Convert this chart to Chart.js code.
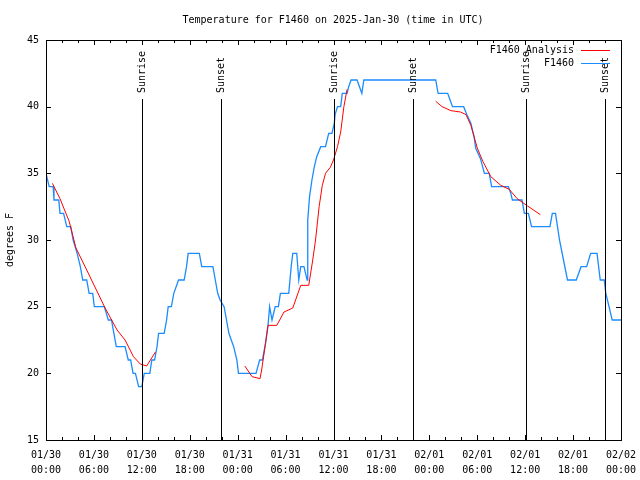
<!DOCTYPE html>
<html>
<head>
<meta charset="utf-8">
<script src="https://cdn.jsdelivr.net/npm/chart.js@4"></script>
<style>
  html, body { margin: 0; padding: 0; background: #fff; }
  #wrap { width: 640px; height: 480px; }
</style>
</head>
<body>
<div id="wrap"><canvas id="chart" width="640" height="480"></canvas></div>
<script>
// hours since 2025-01-30 00:00 UTC
const obsHours = [0,0.4,0.9,1.0,1.6,1.75,2.2,2.6,3.1,3.4,3.9,4.3,4.6,5.1,5.4,5.85,6.05,7.3,7.8,8.2,8.5,8.8,9.9,10.3,10.6,10.9,11.2,11.6,12.0,12.3,13.0,13.25,13.6,13.9,14.1,14.8,15.1,15.3,15.7,16.0,16.6,17.3,17.6,17.8,19.2,19.5,20.9,21.2,21.5,21.8,22.3,22.6,22.9,23.2,23.5,23.9,24.1,26.3,26.75,27.1,27.5,27.8,28.0,28.3,28.7,29.1,29.35,30.4,30.7,30.9,31.4,31.65,31.9,32.3,32.5,32.7,32.75,32.8,33.0,33.3,33.6,33.9,34.4,35.0,35.4,35.8,36.1,36.2,36.5,36.9,37.1,37.7,37.9,38.2,38.95,39.25,39.55,39.8,48.8,49.1,50.3,50.6,50.9,52.3,52.7,53.2,53.6,53.8,54.4,54.9,55.5,55.8,57.9,58.2,58.4,59.6,59.9,60.4,60.8,63.1,63.4,63.8,64.3,64.8,65.3,66.4,67.0,67.7,68.2,69.0,69.4,69.9,70.1,70.5,70.9,72];
const obsTemps = [35,34,34,33,33,32,32,31,31,30,29,28,27,27,26,26,25,25,24,24,23,22,22,21,21,20,20,19,19,20,20,21,21,22,23,23,24,25,25,26,27,27,28,29,29,28,28,27,26,25.5,25,24,23,22.5,22,21,20,20,21,21,22.3,23.6,25,24,25,25,26,26,28,29,29,27,28,28,27.5,27,29,31.5,33.25,34.5,35.5,36.25,37,37,38,38,38.75,39.4,40,40,41,41,41.5,42,42,41.5,41,42,42,41,41,40.5,40,40,39.4,38.75,37.75,36.9,36.1,35,35,34,34,33.5,33,33,32,32,31,31,32,32,30,28.5,27,27,28,28,29,29,27,27,26,25,24,24];

// analysis runs, null breaks the line between runs
const anaHours = [0.8,1.75,2.9,3.75,5.1,7.4,8.9,9.9,10.95,11.8,12.6,13.7, 13.8,
  24.9,25.8,26.8,27.0,27.5,27.8,28.9,29.8,30.9,31.9,32.9,33.4,33.75,34.2,34.6,35.0,35.6,36.0,36.5,36.9,37.3,37.7, 37.8,
  48.8,49.6,50.7,51.9,52.6,53.2,53.6,54.0,54.7,55.7,56.95,58.0,59.0,60.3,61.9];
const anaTemps = [34.25,33.1,31.4,29.4,27.75,24.9,23.25,22.5,21.25,20.7,20.55,21.6, null,
  20.55,19.75,19.6,20.25,22.3,23.6,23.6,24.6,24.9,26.6,26.6,28.5,30,32.5,34.1,35,35.45,36,37,38.1,40,41.3, null,
  40.4,40,39.7,39.6,39.4,38.6,37.75,36.9,35.9,34.75,34.1,33.8,33.1,32.55,31.9];

const eventHours = [12.05, 21.95, 36.1, 45.9, 60.1, 70.0];
const eventNames = ['Sunrise', 'Sunset', 'Sunrise', 'Sunset', 'Sunrise', 'Sunset'];

const dayLabels = ['01/30', '01/31', '02/01', '02/02'];
const timeLabels = ['00:00', '06:00', '12:00', '18:00'];

const FONT = '10px "DejaVu Sans Mono", monospace';

const gnuplotLook = {
  id: 'gnuplotLook',
  afterDatasetsDraw(chart) {
    const ctx = chart.ctx;
    const a = chart.chartArea;
    const xs = chart.scales.x, ys = chart.scales.y;
    ctx.save();
    ctx.strokeStyle = '#000';
    ctx.lineWidth = 1;

    // event lines
    ctx.fillStyle = '#000';
    ctx.font = FONT;
    eventHours.forEach((h, i) => {
      const px = Math.round(xs.getPixelForValue(h)) + 0.5;
      ctx.beginPath();
      ctx.moveTo(px, 99);
      ctx.lineTo(px, a.bottom);
      ctx.stroke();
      ctx.save();
      ctx.translate(px, 93);
      ctx.rotate(-Math.PI / 2);
      ctx.textAlign = 'left';
      ctx.textBaseline = 'middle';
      ctx.fillText(eventNames[i], 0, 0);
      ctx.restore();
    });

    // border
    ctx.strokeRect(Math.round(a.left) + 0.5, Math.round(a.top) + 0.5,
      Math.round(a.right - a.left), Math.round(a.bottom - a.top));

    // ticks on all sides, pointing inward
    ctx.beginPath();
    for (let h = 0; h <= 72; h += 2) {
      const px = Math.round(xs.getPixelForValue(h)) + 0.5;
      const len = h % 6 === 0 ? 5 : 3;
      ctx.moveTo(px, a.bottom); ctx.lineTo(px, a.bottom - len);
      ctx.moveTo(px, a.top); ctx.lineTo(px, a.top + len);
    }
    for (let t = 15; t <= 45; t += 5) {
      const py = Math.round(ys.getPixelForValue(t)) + 0.5;
      ctx.moveTo(a.left, py); ctx.lineTo(a.left + 5, py);
      ctx.moveTo(a.right, py); ctx.lineTo(a.right - 5, py);
    }
    ctx.stroke();

    // legend
    ctx.textAlign = 'right';
    ctx.textBaseline = 'middle';
    chart.data.datasets.forEach((ds, i) => {
      const ly = 50 + i * 13;
      ctx.fillStyle = '#000';
      ctx.fillText(ds.label, 574, ly);
      ctx.strokeStyle = ds.borderColor;
      ctx.beginPath();
      ctx.moveTo(581, ly + 0.5);
      ctx.lineTo(610, ly + 0.5);
      ctx.stroke();
    });

    // title and y title
    ctx.fillStyle = '#000';
    ctx.textAlign = 'center';
    ctx.fillText('Temperature for F1460 on 2025-Jan-30 (time in UTC)', 333, 20);
    ctx.save();
    ctx.translate(10, 240);
    ctx.rotate(-Math.PI / 2);
    ctx.fillText('degrees F', 0, 0);
    ctx.restore();
    ctx.restore();
  }
};

new Chart(document.getElementById('chart'), {
  type: 'line',
  data: {
    datasets: [{
      label: 'F1460 Analysis',
      data: anaHours.map((h, i) => ({ x: h, y: anaTemps[i] })),
      borderColor: '#ff0000',
      borderWidth: 1,
      pointRadius: 0,
      spanGaps: false,
      tension: 0
    }, {
      label: 'F1460',
      data: obsHours.map((h, i) => ({ x: h, y: obsTemps[i] })),
      borderColor: '#1a8cff',
      borderWidth: 1.3,
      pointRadius: 0,
      tension: 0
    }]
  },
  options: {
    responsive: false,
    animation: false,
    layout: { padding: { top: 40, right: 19, left: 0, bottom: 0 } },
    plugins: {
      legend: { display: false },
      title: { display: false },
      tooltip: { enabled: false }
    },
    scales: {
      x: {
        type: 'linear',
        min: 0,
        max: 72,
        afterFit: s => { s.height = 40; s.paddingLeft = 0; s.paddingRight = 0; },
        grid: { display: false, drawTicks: false },
        border: { display: false },
        ticks: {
          stepSize: 6,
          autoSkip: false,
          maxRotation: 0,
          padding: 8,
          color: '#000',
          font: { family: '"DejaVu Sans Mono", monospace', size: 10, lineHeight: 1.5 },
          callback: v => [dayLabels[Math.floor(v / 24)], timeLabels[(v % 24) / 6]]
        }
      },
      y: {
        min: 15,
        max: 45,
        afterFit: s => { s.width = 46; },
        grid: { display: false, drawTicks: false },
        border: { display: false },
        ticks: {
          stepSize: 5,
          padding: 7,
          color: '#000',
          font: { family: '"DejaVu Sans Mono", monospace', size: 10 }
        }
      }
    }
  },
  plugins: [gnuplotLook]
});
</script>
</body>
</html>
